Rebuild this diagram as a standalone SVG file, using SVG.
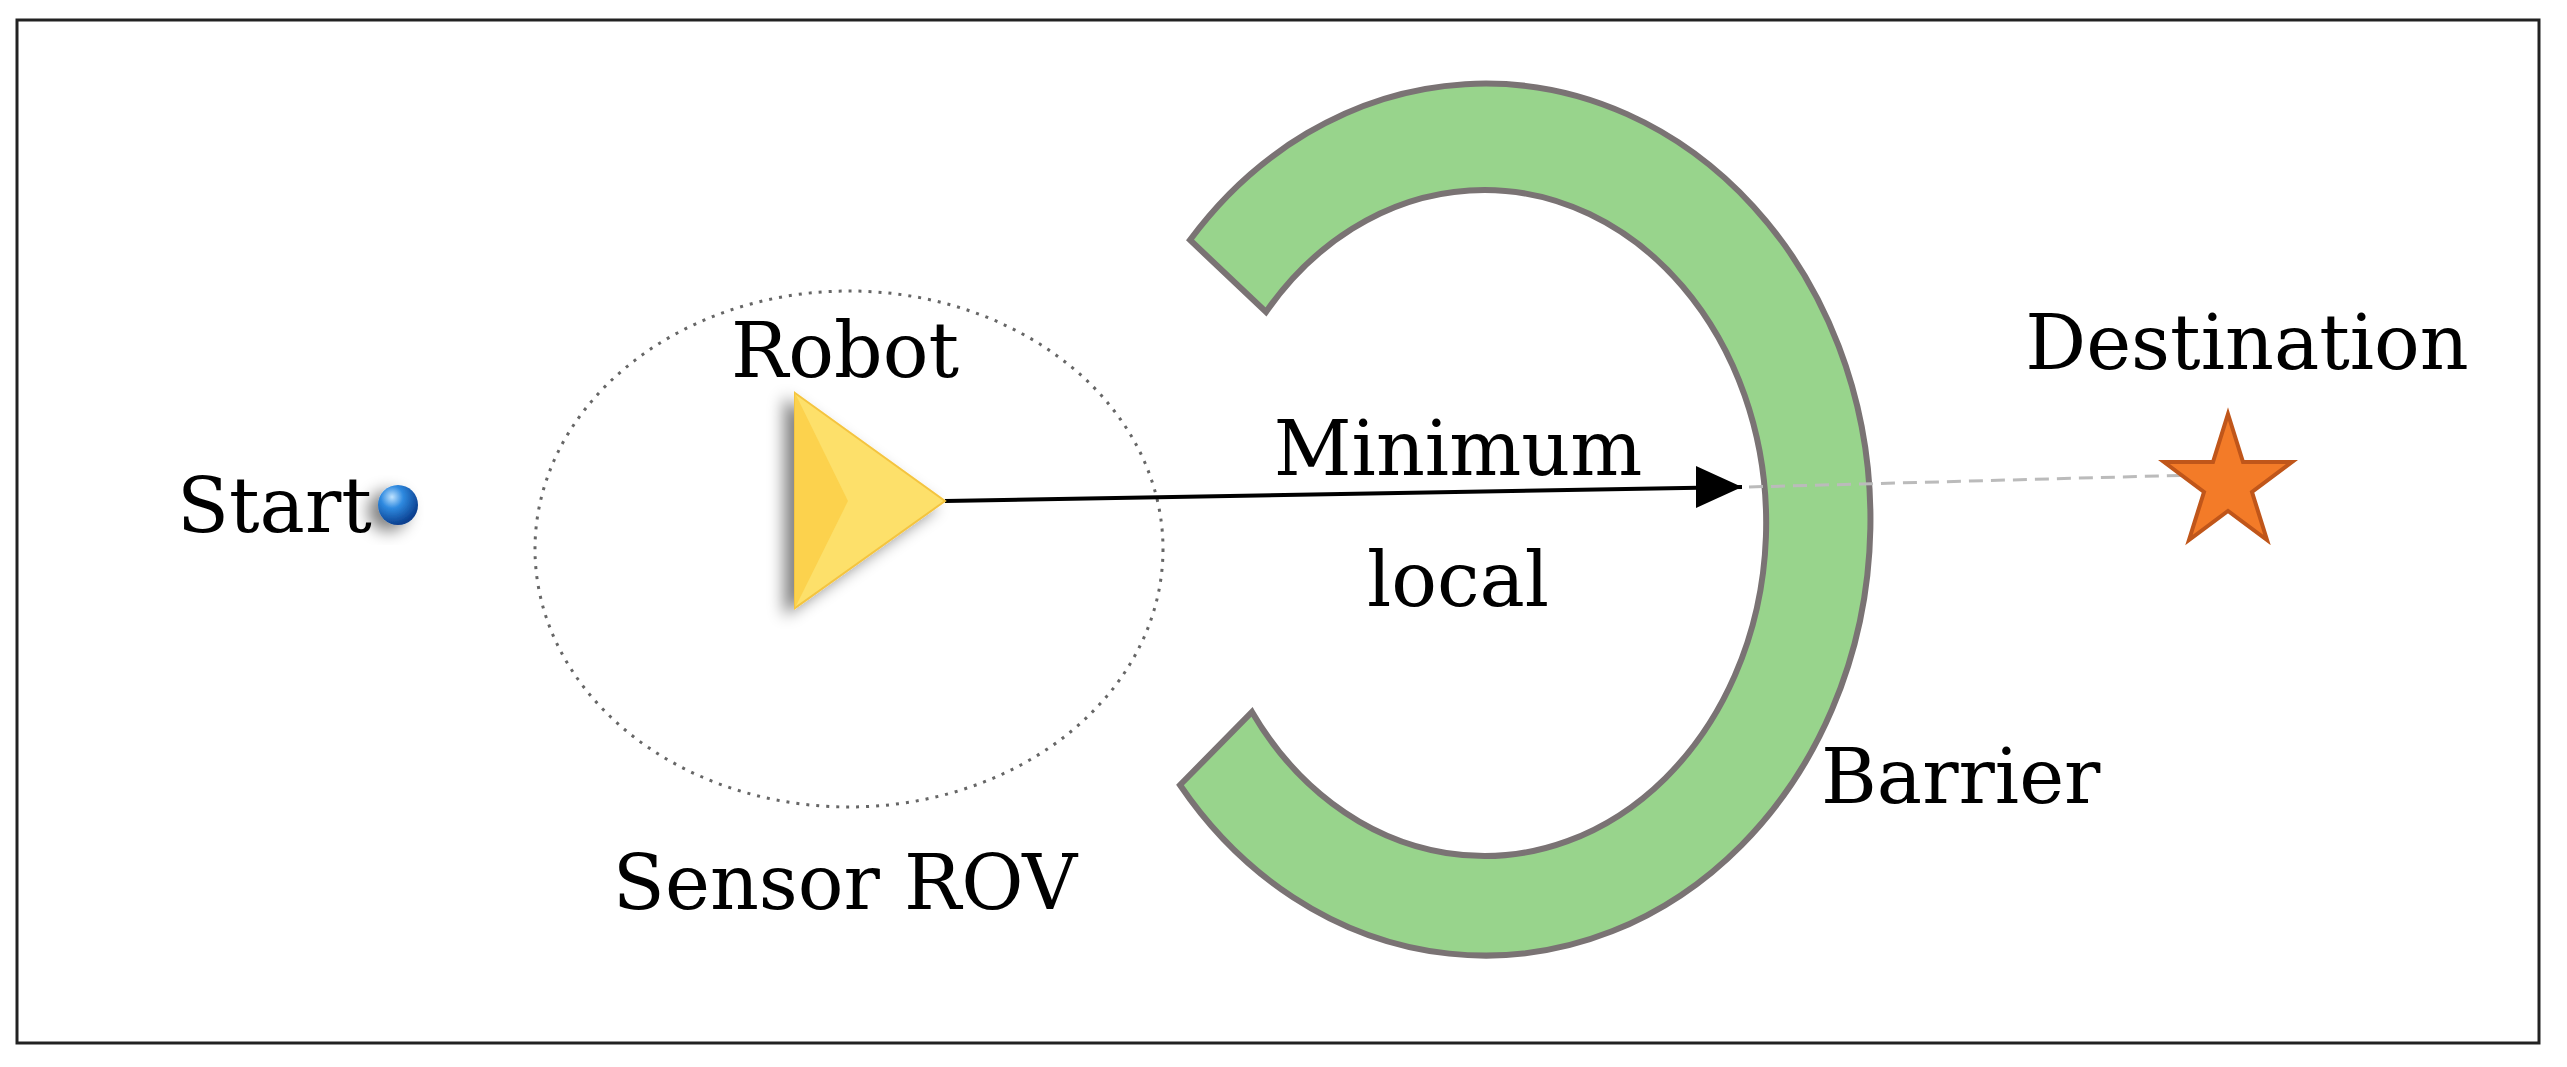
<svg xmlns="http://www.w3.org/2000/svg" width="2567" height="1067" viewBox="0 0 2567 1067">
<style>
text{font-family:"DejaVu Serif","Liberation Serif",serif;font-size:76px;fill:#000}
</style>
<defs>
<radialGradient id="ball" cx="0.35" cy="0.3" r="0.7"><stop offset="0" stop-color="#bfe3ff"/><stop offset="0.4" stop-color="#2f8ae0"/><stop offset="1" stop-color="#0a3f8f"/></radialGradient>
<filter id="sh" x="-50%" y="-50%" width="200%" height="200%"><feGaussianBlur in="SourceAlpha" stdDeviation="8"/><feOffset dx="-10" dy="6"/><feComponentTransfer><feFuncA type="linear" slope="0.5"/></feComponentTransfer><feMerge><feMergeNode/><feMergeNode in="SourceGraphic"/></feMerge></filter>
</defs>
<rect x="0" y="0" width="2567" height="1067" fill="#fff"/>
<rect x="17" y="20" width="2522" height="1023" fill="none" stroke="#222" stroke-width="3"/>
<g id="barrier"><path d="M1190 240 A385 436 0 1 1 1180 785 L1252 712 A282 333 0 1 0 1266 312 Z" fill="#98d48c" stroke="#7a7374" stroke-width="6"/></g>
<g id="sensor"><ellipse cx="849" cy="549" rx="314" ry="258" fill="none" stroke="#666" stroke-width="3" stroke-dasharray="3 7"/><text x="845" y="909" text-anchor="middle">Sensor ROV</text></g>
<g id="connectors">
<line x1="945" y1="501" x2="1742" y2="487" stroke="#000" stroke-width="4"/>
<path d="M1696 466 L1742 487 L1696 508 Z" fill="#000"/>
<line x1="1749" y1="487" x2="2195" y2="475" stroke="#bbb" stroke-width="3" stroke-dasharray="14 8"/>
</g>
<g id="start"><text x="177" y="532">Start</text><circle cx="398" cy="505" r="20" fill="url(#ball)" filter="url(#sh)"/></g>
<g id="robot"><text x="845" y="377" text-anchor="middle">Robot</text>
<g filter="url(#sh)"><path d="M795 393 L945 501 L795 608 Z" fill="#fde06a" stroke="#f4c43f" stroke-width="2"/><path d="M795 393 L848 501 L795 608 Z" fill="#fcd24e"/></g></g>
<g id="minimum"><text x="1458" y="475" text-anchor="middle">Minimum</text><text x="1458" y="606" text-anchor="middle">local</text></g>
<g id="destination"><text x="2247" y="369" text-anchor="middle">Destination</text>
<polygon points="2228,414 2243,462 2292,462 2252,492 2267,540 2228,511 2189,540 2204,492 2164,462 2213,462" fill="#f37b28" stroke="#c0561a" stroke-width="4"/></g>
<g id="barrier-label"><text x="1821" y="803">Barrier</text></g>
</svg>
